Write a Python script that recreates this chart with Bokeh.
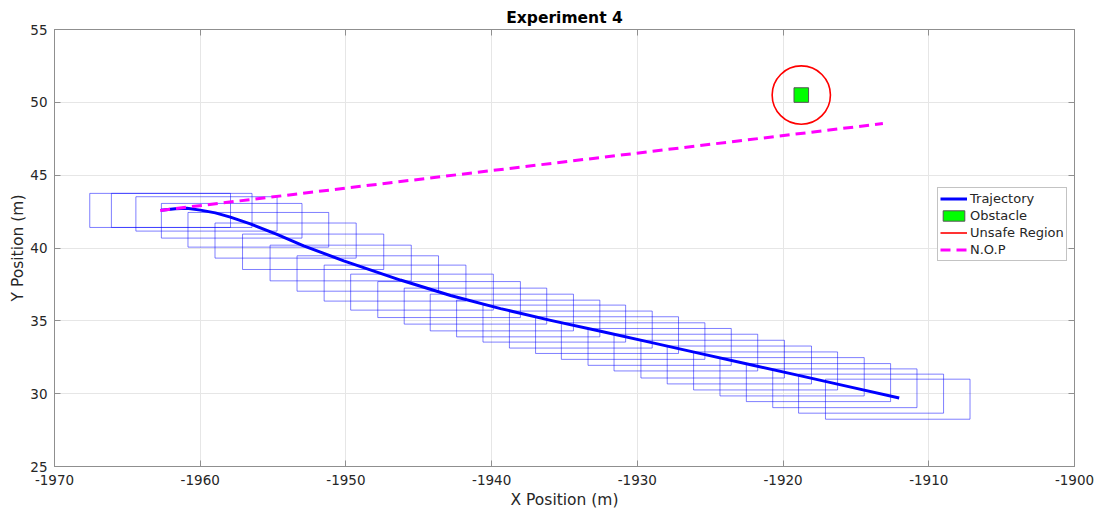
from bokeh.plotting import figure
from bokeh.models import Range1d, LinearAxis, Legend, LegendItem, ColumnDataSource, FixedTicker
from bokeh.embed import file_html
from bokeh.resources import INLINE

# ---------------- data ----------------
traj_x = [-1962.69, -1961.71, -1960.91, -1959.99, -1958.96, -1957.93, -1956.56,
          -1954.73, -1952.90, -1950.15, -1946.26, -1942.82, -1939.39, -1935.95,
          -1932.52, -1929.09, -1925.65, -1922.22, -1918.78, -1915.35, -1912.03]
traj_y = [42.59, 42.69, 42.73, 42.60, 42.41, 42.12, 41.66,
          40.93, 40.15, 39.12, 37.80, 36.74, 35.84, 35.03,
          34.28, 33.52, 32.75, 31.98, 31.22, 30.45, 29.70]

box_x = [-1962.75, -1961.27, -1959.57, -1957.84, -1956.01, -1954.14, -1952.25,
         -1950.36, -1948.50, -1946.63, -1944.78, -1942.92, -1941.11, -1939.30,
         -1937.49, -1935.70, -1933.88, -1932.08, -1930.29, -1928.47, -1926.67,
         -1924.83, -1923.00, -1921.20, -1919.38, -1917.57, -1915.76, -1913.96,
         -1912.13]
box_y = [42.58, 42.58, 42.34, 41.87, 41.25, 40.51, 39.74,
         38.97, 38.25, 37.59, 36.97, 36.46, 36.01, 35.57,
         35.16, 34.81, 34.40, 34.02, 33.61, 33.21, 32.82,
         32.37, 31.97, 31.56, 31.16, 30.76, 30.37, 30.00,
         29.62]
box_w = [9.66, 9.65, 9.69, 9.65, 9.66, 9.69, 9.69,
         9.69, 9.71, 9.73, 9.79, 9.79, 9.78, 9.83,
         9.83, 9.79, 9.80, 9.81, 9.85, 9.83, 9.86,
         9.85, 9.90, 9.88, 9.90, 9.90, 9.90, 9.95,
         9.92]
box_h = [2.34, 2.34, 2.36, 2.38, 2.38, 2.41, 2.43,
         2.45, 2.43, 2.47, 2.47, 2.47, 2.47, 2.52,
         2.52, 2.54, 2.54, 2.52, 2.51, 2.53, 2.52,
         2.59, 2.60, 2.61, 2.63, 2.61, 2.66, 2.68,
         2.75]

nop_x = [-1962.75, -1913.15]
nop_y = [42.58, 48.54]

obs_x = [-1918.75]
obs_y = [50.5]
obs_size = [1.0]
unsafe_r = [2.0]

x_ticks = [-1970, -1960, -1950, -1940, -1930, -1920, -1910, -1900]
y_ticks = [25, 30, 35, 40, 45, 50, 55]

FONT = "DejaVu Sans"
TXT = "#262626"
AXC = "#8f8f8f"

# ---------------- figure ----------------
p = figure(width=1102, height=512, output_backend="svg", toolbar_location=None,
           x_range=Range1d(-1970, -1900), y_range=Range1d(25, 55),
           min_border_left=54, min_border_right=28, min_border_top=29, min_border_bottom=46,
           title="Experiment 4")

p.title.align = "center"
p.title.text_font = FONT
p.title.text_font_size = "15.5px"
p.title.text_font_style = "bold"
p.title.text_color = "#000000"
p.title.standoff = 5
p.title.offset = 0

p.outline_line_color = AXC
p.background_fill_color = "white"
p.border_fill_color = "white"

for ax in (p.xaxis[0], p.yaxis[0]):
    ax.major_tick_in = 6
    ax.major_tick_out = 0
    ax.minor_tick_line_color = None
    ax.axis_line_color = AXC
    ax.major_tick_line_color = AXC
    ax.major_label_text_font = FONT
    ax.major_label_text_font_size = "13.5px"
    ax.major_label_text_color = TXT
    ax.axis_label_text_font = FONT
    ax.axis_label_text_font_size = "15.5px"
    ax.axis_label_text_font_style = "normal"
    ax.axis_label_text_color = TXT

p.xaxis.ticker = FixedTicker(ticks=x_ticks)
p.yaxis.ticker = FixedTicker(ticks=y_ticks)
p.xaxis.major_label_overrides = {t: str(t) for t in x_ticks}
p.yaxis.major_label_overrides = {t: str(t) for t in y_ticks}
p.xaxis.axis_label = "X Position (m)"
p.yaxis.axis_label = "Y Position (m)"
p.xaxis.major_label_standoff = 8
p.xaxis.axis_label_standoff = 3
p.yaxis.major_label_standoff = 7
p.yaxis.axis_label_standoff = 0

# ticks on the opposite sides (box)
rax = LinearAxis(ticker=FixedTicker(ticks=y_ticks),
                 major_label_overrides={t: "" for t in y_ticks},
                 major_tick_in=6, major_tick_out=0, minor_tick_line_color=None,
                 axis_line_color=AXC, major_tick_line_color=AXC, major_label_standoff=0)
tax = LinearAxis(ticker=FixedTicker(ticks=x_ticks),
                 major_label_overrides={t: "" for t in x_ticks},
                 major_tick_in=6, major_tick_out=0, minor_tick_line_color=None,
                 axis_line_color=AXC, major_tick_line_color=AXC, major_label_standoff=0)
p.add_layout(rax, "right")
p.add_layout(tax, "above")

p.xgrid.ticker = FixedTicker(ticks=x_ticks)
p.ygrid.ticker = FixedTicker(ticks=y_ticks)
p.grid.grid_line_color = "#e6e6e6"
p.grid.grid_line_width = 1

# ---------------- glyphs ----------------
box_src = ColumnDataSource(dict(x=box_x, y=box_y, w=box_w, h=box_h))
p.rect(x="x", y="y", width="w", height="h", source=box_src,
       fill_color=None, line_color="blue", line_alpha=0.5, line_width=1)

traj = p.line(traj_x, traj_y, line_color="blue", line_width=3, line_join="round")
nop = p.line(nop_x, nop_y, line_color="magenta", line_width=3, line_dash="10 6")

obs = p.rect(x=obs_x, y=obs_y, width=obs_size, height=obs_size,
             fill_color="#00ff00", line_color="#555555", line_width=1)
p.circle(x=obs_x, y=obs_y, radius=unsafe_r, fill_color=None,
         line_color="red", line_width=1.6)
# single-point line: draws nothing in the plot, only provides the legend glyph
unsafe_leg = p.line(x=obs_x, y=obs_y, line_color="red", line_width=1.6)

legend = Legend(items=[
    LegendItem(label="Trajectory", renderers=[traj]),
    LegendItem(label="Obstacle", renderers=[obs]),
    LegendItem(label="Unsafe Region", renderers=[unsafe_leg]),
    LegendItem(label="N.O.P", renderers=[nop]),
], location=(883, 205))
legend.label_text_font = FONT
legend.label_text_font_size = "13px"
legend.label_text_color = TXT
legend.glyph_width = 27
legend.glyph_height = 13
legend.label_height = 17
legend.label_standoff = 3
legend.spacing = 0
legend.padding = 2
legend.margin = 0
legend.border_line_color = "#888888"
legend.background_fill_alpha = 1.0
p.add_layout(legend)

open("out.html", "w").write(file_html(p, INLINE))
